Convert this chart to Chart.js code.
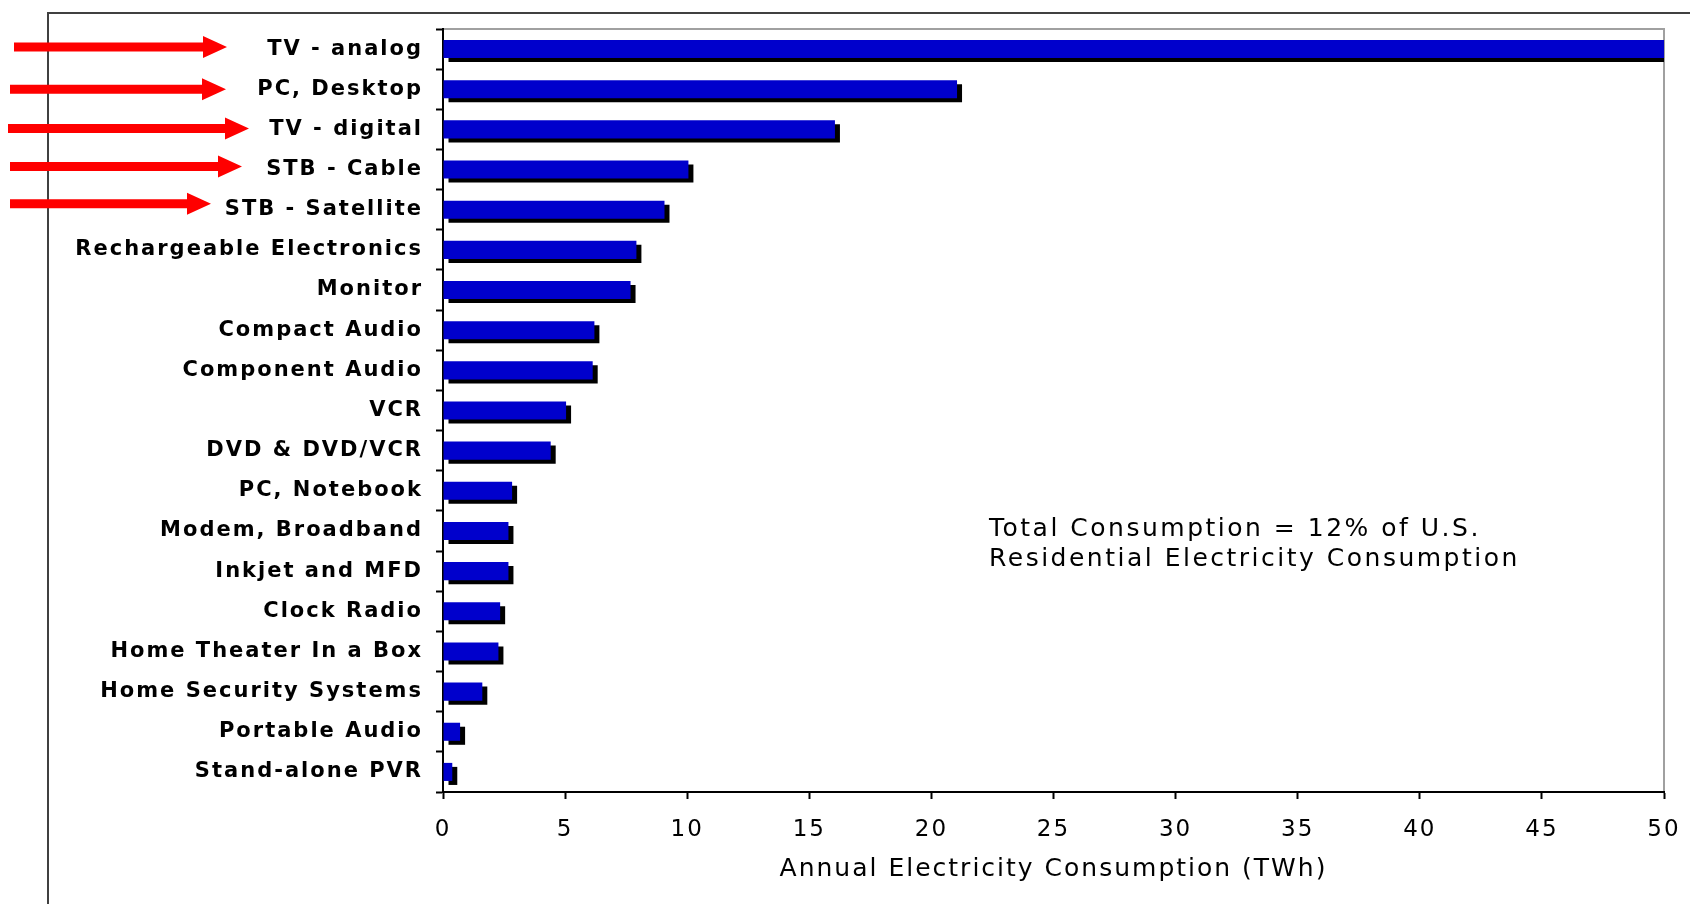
<!DOCTYPE html>
<html>
<head>
<meta charset="utf-8">
<script src="https://cdn.jsdelivr.net/npm/chart.js@4.4.1/dist/chart.umd.min.js"></script>
<style>
  html, body { margin: 0; padding: 0; background: #fff; }
</style>
</head>
<body>
<canvas id="myChart" width="1690" height="904"></canvas>
<script>
const categories = [
  'TV - analog', 'PC, Desktop', 'TV - digital', 'STB - Cable', 'STB - Satellite',
  'Rechargeable Electronics', 'Monitor', 'Compact Audio', 'Component Audio', 'VCR',
  'DVD & DVD/VCR', 'PC, Notebook', 'Modem, Broadband', 'Inkjet and MFD', 'Clock Radio',
  'Home Theater In a Box', 'Home Security Systems', 'Portable Audio', 'Stand-alone PVR'
];

// TWh per year
const consumption = [
  50, 21.05, 16.05, 10.05, 9.07,
  7.92, 7.68, 6.2, 6.13, 5.04,
  4.41, 2.83, 2.68, 2.68, 2.34,
  2.27, 1.61, 0.7, 0.38
];

const xTicks = [0, 5, 10, 15, 20, 25, 30, 35, 40, 45, 50];

const highlighted = ['TV - analog', 'PC, Desktop', 'TV - digital', 'STB - Cable', 'STB - Satellite'];

const noteLines = ['Total Consumption = 12% of U.S.', 'Residential Electricity Consumption'];

const ctx = document.getElementById('myChart');

// outer box + light top/right frame of the plot, wide letter spacing like the original
const frame = {
  id: 'frame',
  beforeDraw(chart) {
    const c = chart.ctx;
    const a = chart.chartArea;
    c.letterSpacing = '2px';
    c.save();
    c.strokeStyle = '#404040';
    c.lineWidth = 2;
    c.beginPath();
    c.moveTo(48, 904);
    c.lineTo(48, 13);
    c.lineTo(1690, 13);
    c.stroke();
    c.strokeStyle = '#a0a0a0';
    c.beginPath();
    c.moveTo(a.left, a.top);
    c.lineTo(a.right, a.top);
    c.lineTo(a.right, a.bottom);
    c.stroke();
    c.restore();
  }
};

// hard black drop shadow under each bar
const barShadow = {
  id: 'barShadow',
  beforeDatasetDraw(chart) {
    const c = chart.ctx;
    c.save();
    c.shadowColor = '#000';
    c.shadowBlur = 0;
    c.shadowOffsetX = 5;
    c.shadowOffsetY = 4;
  },
  afterDatasetDraw(chart) {
    chart.ctx.restore();
  }
};

// red arrows pointing at the highlighted categories
const arrows = {
  id: 'arrows',
  afterDraw(chart) {
    const c = chart.ctx;
    const y = chart.scales.y;
    const geo = [[14, 227, -2], [10, 226, 0], [8, 249, -1], [10, 242, -3], [10, 211, -6]];
    c.save();
    c.fillStyle = '#ff0000';
    highlighted.forEach((name, i) => {
      const [x0, tip, dy] = geo[i];
      const py = y.getPixelForValue(categories.indexOf(name)) + dy;
      const base = tip - 24;
      c.beginPath();
      c.moveTo(x0, py - 4.5);
      c.lineTo(base, py - 4.5);
      c.lineTo(base, py - 11);
      c.lineTo(tip, py);
      c.lineTo(base, py + 11);
      c.lineTo(base, py + 4.5);
      c.lineTo(x0, py + 4.5);
      c.closePath();
      c.fill();
    });
    c.restore();
  }
};

const note = {
  id: 'note',
  afterDraw(chart) {
    const c = chart.ctx;
    c.save();
    c.fillStyle = '#000';
    c.font = '25px "DejaVu Sans"';
    c.letterSpacing = '2.5px';
    c.textBaseline = 'middle';
    c.textAlign = 'left';
    noteLines.forEach((t, i) => c.fillText(t, 989, 529 + i * 30));
    c.restore();
  }
};

new Chart(ctx, {
  type: 'bar',
  data: {
    labels: categories,
    datasets: [{
      data: consumption,
      backgroundColor: '#0000cc',
      barPercentage: 0.45,
      categoryPercentage: 1
    }]
  },
  options: {
    indexAxis: 'y',
    responsive: false,
    animation: false,
    layout: { padding: { top: 29, right: 26, left: 0, bottom: 0 } },
    plugins: {
      legend: { display: false },
      tooltip: { enabled: false }
    },
    scales: {
      x: {
        min: 0,
        max: 50,
        afterBuildTicks: s => { s.ticks = xTicks.map(v => ({ value: v })); },
        afterFit: s => { s.height = 112; s.paddingLeft = 0; s.paddingRight = 0; },
        ticks: { color: '#000', font: { family: 'DejaVu Sans', size: 23 }, padding: 17, maxRotation: 0 },
        grid: { drawOnChartArea: false, tickLength: 7, color: '#000', tickWidth: 2 },
        border: { color: '#000', width: 2 },
        title: {
          display: true,
          text: 'Annual Electricity Consumption (TWh)',
          color: '#000',
          font: { family: 'DejaVu Sans', size: 25 },
          padding: { top: 0, bottom: 20 }
        }
      },
      y: {
        afterFit: s => { s.width = 443; s.paddingTop = 0; s.paddingBottom = 0; },
        ticks: { color: '#000', font: { family: 'DejaVu Sans', size: 21, weight: 'bold' }, padding: 13 },
        grid: { drawOnChartArea: false, tickLength: 7, color: '#000', tickWidth: 2 },
        border: { color: '#000', width: 2 }
      }
    }
  },
  plugins: [frame, barShadow, arrows, note]
});
</script>
</body>
</html>
